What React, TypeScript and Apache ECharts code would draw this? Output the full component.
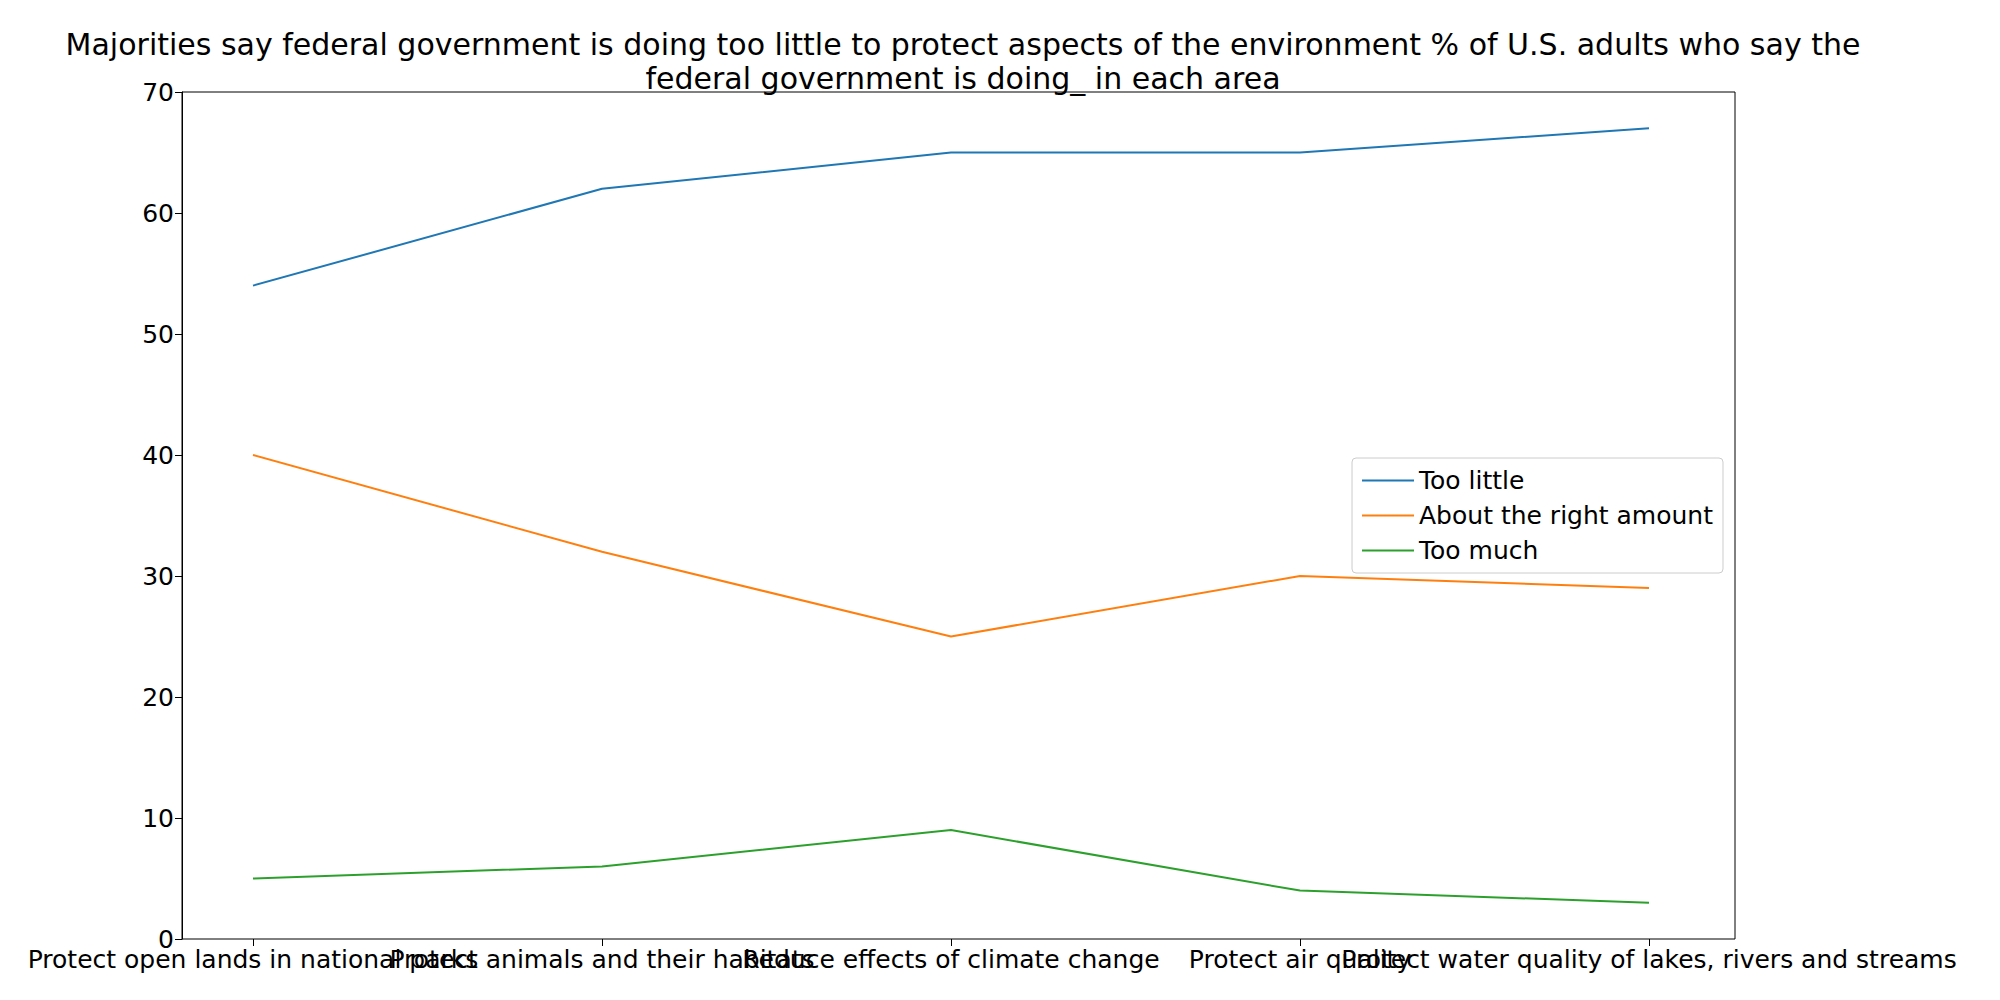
import React, { useEffect, useRef } from 'react';
import * as echarts from 'echarts';

const categories = [
  'Protect open lands in national parks',
  'Protect animals and their habitats',
  'Reduce effects of climate change',
  'Protect air quality',
  'Protect water quality of lakes, rivers and streams',
];
const tooLittle = [54, 62, 65, 65, 67];
const rightAmount = [40, 32, 25, 30, 29];
const tooMuch = [5, 6, 9, 4, 3];

const App = () => {
  const chartRef = useRef(null);

  useEffect(() => {
    if (!chartRef.current) return;
    const chart = echarts.init(chartRef.current, null, { renderer: 'svg' });
    const font = 'DejaVu Sans';
    const line = (name: string, data: number[], color: string) => ({
      name,
      type: 'line',
      data,
      symbol: 'none',
      lineStyle: { color, width: 2 },
      itemStyle: { color },
    });
    chart.setOption({
      animation: false,
      textStyle: { fontFamily: font },
      title: {
        text: 'Majorities say federal government is doing too little to protect aspects of the environment % of U.S. adults who say the\nfederal government is doing_ in each area',
        left: 950,
        textAlign: 'center',
        top: 14,
        textStyle: { fontSize: 30, fontWeight: 'normal', color: '#000', lineHeight: 34, fontFamily: font },
      },
      legend: {
        orient: 'vertical',
        right: 269,
        top: 450,
        itemWidth: 52,
        itemHeight: 2,
        itemGap: 10,
        padding: [10, 10, 10, 10],
        borderColor: '#ccc',
        borderWidth: 1,
        borderRadius: 4,
        backgroundColor: '#fff',
        icon: 'rect',
        textStyle: { fontSize: 25, color: '#000', fontFamily: font },
        data: ['Too little', 'About the right amount', 'Too much'],
      },
      grid: { left: 245, right: 343, top: 84, bottom: 53 },
      xAxis: {
        type: 'category',
        data: categories,
        boundaryGap: false,
        axisLine: { show: false },
        axisTick: { show: true, alignWithLabel: true, length: 7, lineStyle: { color: '#000' } },
        axisLabel: { interval: 0, fontSize: 25, color: '#000', margin: 8, fontFamily: font },
        splitLine: { show: false },
      },
      yAxis: {
        type: 'value',
        min: 0,
        max: 70,
        interval: 10,
        offset: 71,
        axisLine: { show: true, lineStyle: { color: '#000' } },
        axisTick: { show: true, length: 7, lineStyle: { color: '#000' } },
        axisLabel: { fontSize: 25, color: '#000', margin: 8, fontFamily: font },
        splitLine: { show: false },
      },
      graphic: [
        {
          type: 'rect',
          shape: { x: 174, y: 84, width: 1553, height: 847 },
          style: { fill: 'none', stroke: '#000', lineWidth: 1 },
          silent: true,
        },
      ],
      series: [
        line('Too little', tooLittle, '#1f77b4'),
        line('About the right amount', rightAmount, '#ff7f0e'),
        line('Too much', tooMuch, '#2ca02c'),
      ],
    });
    return () => chart.dispose();
  }, []);

  return <div ref={chartRef} style={{ width: '1984px', height: '984px' }} />;
};

export default App;
